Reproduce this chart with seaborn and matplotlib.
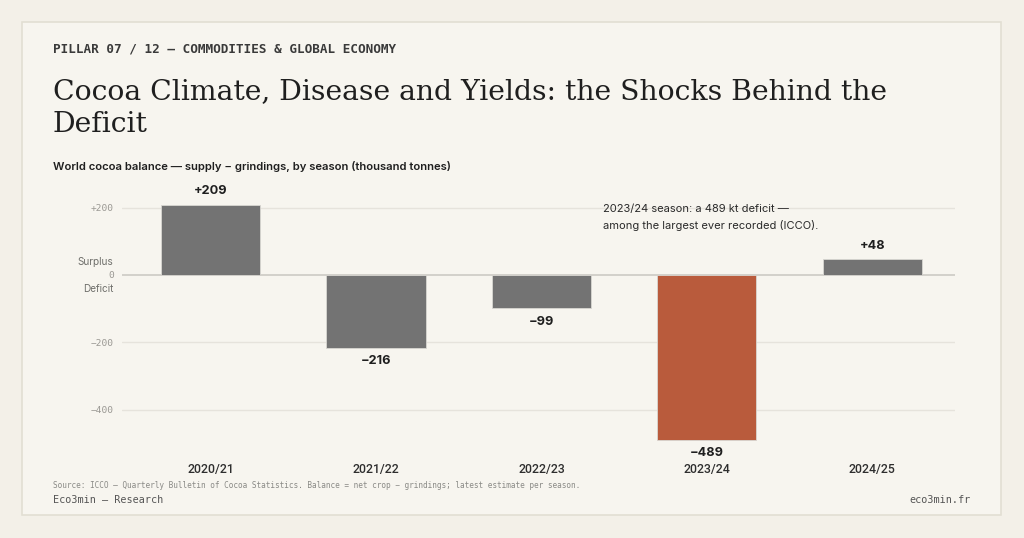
import matplotlib
matplotlib.use("Agg")
import matplotlib.pyplot as plt
import seaborn as sns
import pandas as pd
from matplotlib.patches import Rectangle

# Data
seasons = ["2020/21", "2021/22", "2022/23", "2023/24", "2024/25"]
balance = [209, -216, -99, -489, 48]
value_labels = ["+209", "\u2212216", "\u221299", "\u2212489", "+48"]
highlight = "2023/24"
yticks = [200, 0, -200, -400]
ytick_labels = ["+200", "0", "\u2212200", "\u2212400"]

BG = "#f3f0e8"
CARD = "#f7f5ef"
GREY = "#737373"
RUST = "#b95b3c"
INK = "#1f1f1f"
MUTED = "#8a8a86"

df = pd.DataFrame({"season": seasons, "balance": balance})
palette = {s: (RUST if s == highlight else GREY) for s in seasons}

sns.set_theme(style="white")
plt.rcParams["font.family"] = ["Inter", "DejaVu Sans"]

fig = plt.figure(figsize=(10.24, 5.38), dpi=100, facecolor=BG)
card = Rectangle((22 / 1024, 1 - 515 / 538), 979 / 1024, 493 / 538,
                 transform=fig.transFigure, facecolor=CARD,
                 edgecolor="#e2dfd3", linewidth=1.2, zorder=-10)
fig.patches.append(card)

ax = fig.add_axes([122 / 1024, 1 - 450 / 538, 833 / 1024, 262.5 / 538], zorder=1)
ax.set_facecolor("none")
sns.barplot(data=df, x="season", y="balance", hue="season", palette=palette,
            width=0.6, legend=False, saturation=1, ax=ax, zorder=3,
            edgecolor="#d9d7d2", linewidth=0.6)
ax.set_xlim(-0.535, 4.5)
ax.set_ylim(-520, 260)

for y in yticks:
    ax.axhline(y, color="#c9c7c1" if y == 0 else "#e6e3dc", lw=1.1 if y == 0 else 1.0, zorder=1)

for sp in ax.spines.values():
    sp.set_visible(False)
ax.set_yticks(yticks)
ax.set_yticklabels(ytick_labels, family="DejaVu Sans Mono", fontsize=6.8, color="#9a9893")
ax.tick_params(axis="y", length=0, pad=6)
ax.tick_params(axis="x", length=0, pad=9.5)
ax.set_xticks(range(len(seasons)))
ax.set_xticklabels(seasons, family="Roboto", fontsize=8.8, fontweight="medium", color="#2e2e2e")
ax.set_xlabel("")
ax.set_ylabel("")

for i, (v, lab) in enumerate(zip(balance, value_labels)):
    off = 9.5 if v > 0 else -9.5
    ax.annotate(lab, (i, v), xytext=(0, off), textcoords="offset points",
                ha="center", va="center", family="Inter",
                fontsize=9.2, fontweight="bold", color=INK)

ax.annotate("Surplus", (0, 0), xycoords=("axes fraction", "data"), xytext=(-6, 9.5),
            textcoords="offset points", ha="right", va="center", fontsize=7.2, color="#6f6f6b")
ax.annotate("Deficit", (0, 0), xycoords=("axes fraction", "data"), xytext=(-6, -10),
            textcoords="offset points", ha="right", va="center", fontsize=7.2, color="#6f6f6b")

ax.text(2.37, 212, "2023/24 season: a 489 kt deficit \u2014\namong the largest ever recorded (ICCO).",
        fontsize=8.0, color="#2a2a2a", va="top", ha="left", linespacing=1.65)

fig.text(53 / 1024, 1 - 49 / 538, "PILLAR 07 / 12 \u2014 COMMODITIES & GLOBAL ECONOMY",
         family="DejaVu Sans Mono", fontsize=9.1, fontweight="bold", color="#3a3a3a", va="center")
fig.text(53 / 1024, 1 - 108 / 538, "Cocoa Climate, Disease and Yields: the Shocks Behind the\nDeficit",
         family="DejaVu Serif", fontsize=20.3, color=INK, va="center", linespacing=1.32)
fig.text(53 / 1024, 1 - 166 / 538,
         "World cocoa balance \u2014 supply \u2212 grindings, by season (thousand tonnes)",
         fontsize=8.1, fontweight="semibold", color=INK, va="center")
fig.text(53 / 1024, 1 - 486 / 538,
         "Source: ICCO \u2014 Quarterly Bulletin of Cocoa Statistics. Balance = net crop \u2212 grindings; latest estimate per season.",
         family="DejaVu Sans Mono", fontsize=5.6, color=MUTED, va="center")
fig.text(53 / 1024, 1 - 500 / 538, "Eco3min \u2014 Research", family="DejaVu Sans Mono",
         fontsize=7.3, color="#555555", va="center")
fig.text(971 / 1024, 1 - 500 / 538, "eco3min.fr", family="DejaVu Sans Mono",
         fontsize=7.3, color="#555555", va="center", ha="right")

fig.savefig("out.png", dpi=100, facecolor=BG)
